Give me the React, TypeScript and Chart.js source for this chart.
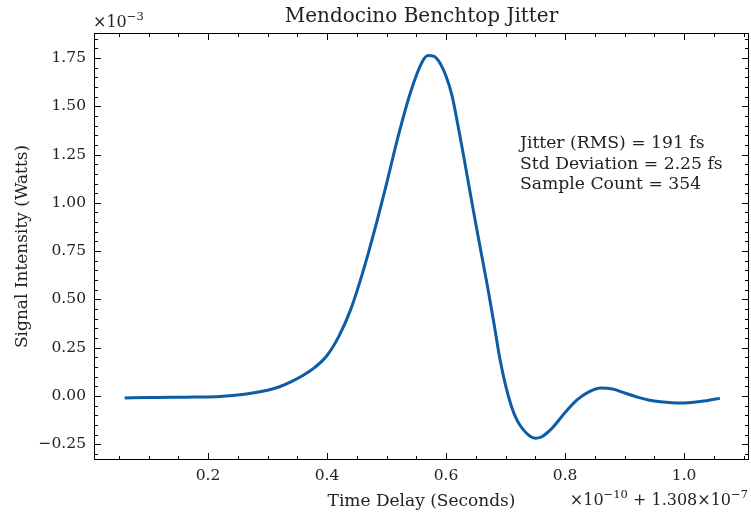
import React, { useEffect, useRef } from "react";
import { Chart, registerables } from "chart.js";

Chart.register(...registerables);

const timeDelay = [
  0.06, 0.10, 0.14, 0.18, 0.22, 0.25, 0.28, 0.30, 0.32, 0.34, 0.36, 0.38, 0.40, 0.42, 0.44,
  0.46, 0.48, 0.50, 0.52, 0.54, 0.56, 0.57, 0.58, 0.59, 0.60, 0.61, 0.62, 0.63, 0.64, 0.65,
  0.66, 0.67, 0.68, 0.69, 0.70, 0.71, 0.72, 0.73, 0.74, 0.75, 0.76, 0.77, 0.78, 0.80, 0.82,
  0.84, 0.86, 0.88, 0.90, 0.92, 0.94, 0.96, 0.98, 1.00, 1.02, 1.04, 1.06,
];
const signal = [
  -0.010, -0.008, -0.006, -0.005, -0.002, 0.005, 0.018, 0.030, 0.048, 0.075, 0.108, 0.150, 0.210, 0.310, 0.450,
  0.640, 0.860, 1.100, 1.350, 1.570, 1.730, 1.762, 1.758, 1.722, 1.655, 1.555, 1.400, 1.235, 1.060, 0.890,
  0.725, 0.560, 0.385, 0.200, 0.055, -0.055, -0.130, -0.175, -0.205, -0.218, -0.212, -0.190, -0.160, -0.085, -0.020,
  0.022, 0.042, 0.036, 0.016, -0.004, -0.020, -0.030, -0.035, -0.036, -0.031, -0.023, -0.012,
];
const xTicks = [0.2, 0.4, 0.6, 0.8, 1.0];
const yTicks = [-0.25, 0, 0.25, 0.5, 0.75, 1.0, 1.25, 1.5, 1.75];
const annotationLines = ["Jitter (RMS) = 191 fs", "Std Deviation = 2.25 fs", "Sample Count = 354"];
const titleText = "Mendocino Benchtop Jitter";
const xTitle = "Time Delay (Seconds)";
const yTitle = "Signal Intensity (Watts)";

const FONT = '"DejaVu Serif", "Liberation Serif", serif';
const LINE = "#0C5DA5";
const TEXT = "#222";

function drawSup(ctx: CanvasRenderingContext2D, parts: [string, boolean][], x: number, y: number, size: number) {
  let cx = x;
  for (const [t, sup] of parts) {
    ctx.font = `${sup ? size * 0.72 : size}px ${FONT}`;
    ctx.fillText(t, cx, sup ? y - size * 0.42 : y);
    cx += ctx.measureText(t).width;
  }
  return cx - x;
}
function measureSup(ctx: CanvasRenderingContext2D, parts: [string, boolean][], size: number) {
  let w = 0;
  for (const [t, sup] of parts) {
    ctx.font = `${sup ? size * 0.72 : size}px ${FONT}`;
    w += ctx.measureText(t).width;
  }
  return w;
}

const decorPlugin = {
  id: "decor",
  afterDraw(chart: any) {
    const ctx: CanvasRenderingContext2D = chart.ctx;
    const { left, right, top, bottom } = chart.chartArea;
    const xs = chart.scales.x;
    const ys = chart.scales.y;
    ctx.save();
    ctx.strokeStyle = "#000";
    ctx.lineWidth = 1;
    ctx.strokeRect(left + 0.5, top + 0.5, right - left - 1, bottom - top - 1);
    ctx.beginPath();
    for (let i = 0; i <= 30; i++) {
      const v = Math.round(i * 0.05 * 100) / 100;
      if (v < xs.min || v > xs.max) continue;
      const major = Math.abs(v / 0.2 - Math.round(v / 0.2)) < 1e-6;
      const L = major ? 7 : 4;
      const px = Math.round(xs.getPixelForValue(v)) + 0.5;
      ctx.moveTo(px, bottom); ctx.lineTo(px, bottom - L);
      ctx.moveTo(px, top); ctx.lineTo(px, top + L);
    }
    for (let i = -10; i <= 40; i++) {
      const v = Math.round(i * 0.05 * 100) / 100;
      if (v < ys.min || v > ys.max) continue;
      const major = Math.abs(v / 0.25 - Math.round(v / 0.25)) < 1e-6;
      const L = major ? 7 : 4;
      const py = Math.round(ys.getPixelForValue(v)) + 0.5;
      ctx.moveTo(left, py); ctx.lineTo(left + L, py);
      ctx.moveTo(right, py); ctx.lineTo(right - L, py);
    }
    ctx.stroke();

    ctx.fillStyle = TEXT;
    ctx.textBaseline = "alphabetic";
    ctx.textAlign = "center";
    ctx.font = `20px ${FONT}`;
    ctx.fillText(titleText, (left + right) / 2, 22);
    ctx.font = `17px ${FONT}`;
    ctx.fillText(xTitle, (left + right) / 2, 506);
    ctx.save();
    ctx.translate(27, (top + bottom) / 2);
    ctx.rotate(-Math.PI / 2);
    ctx.font = `17px ${FONT}`;
    ctx.fillText(yTitle, 0, 0);
    ctx.restore();
    ctx.textAlign = "left";
    ctx.font = `17.2px ${FONT}`;
    annotationLines.forEach((t, i) => ctx.fillText(t, 520, 148 + i * 20.7));
    drawSup(ctx, [["\u00d710", false], ["\u22123", true]], left - 1, 27, 16);
    const parts: [string, boolean][] = [["\u00d710", false], ["\u221210", true], [" + 1.308\u00d710", false], ["\u22127", true]];
    const w = measureSup(ctx, parts, 16);
    drawSup(ctx, parts, 748 - w, 505, 16);
    ctx.restore();
  },
};

export default function App() {
  const ref = useRef<HTMLCanvasElement>(null);
  useEffect(() => {
    document.body.style.margin = "0";
    const chart = new Chart(ref.current!, {
      type: "line",
      data: {
        datasets: [
          {
            data: timeDelay.map((x, i) => ({ x, y: signal[i] })),
            borderColor: LINE,
            borderWidth: 3,
            pointRadius: 0,
            cubicInterpolationMode: "monotone",
            fill: false,
          },
        ],
      },
      options: {
        animation: false,
        responsive: false,
        layout: { padding: { top: 33, right: 2, left: 0, bottom: 0 } },
        plugins: { legend: { display: false }, tooltip: { enabled: false } },
        scales: {
          x: {
            type: "linear",
            min: 0.0084,
            max: 1.109,
            grid: { display: false, drawTicks: false },
            border: { display: false },
            afterBuildTicks: (s: any) => { s.ticks = xTicks.map((v) => ({ value: v })); },
            afterFit: (s: any) => { s.height = 53; },
            ticks: {
              padding: 7,
              color: TEXT,
              font: { family: FONT, size: 15.5 },
              callback: (v: any) => Number(v).toFixed(1),
              maxRotation: 0,
            },
          },
          y: {
            type: "linear",
            min: -0.331,
            max: 1.879,
            grid: { display: false, drawTicks: false },
            border: { display: false },
            afterBuildTicks: (s: any) => { s.ticks = yTicks.map((v) => ({ value: v })); },
            afterFit: (s: any) => { s.width = 94; },
            ticks: {
              padding: 8,
              color: TEXT,
              font: { family: FONT, size: 15.5 },
              callback: (v: any) => {
                const n = Number(v);
                return (n < 0 ? "\u2212" : "") + Math.abs(n).toFixed(2);
              },
            },
          },
        },
      },
      plugins: [decorPlugin],
    } as any);
    return () => chart.destroy();
  }, []);
  return (
    <div style={{ width: 751, height: 513, background: "#fff" }}>
      <canvas ref={ref} width={751} height={513} style={{ display: "block" }} />
    </div>
  );
}
